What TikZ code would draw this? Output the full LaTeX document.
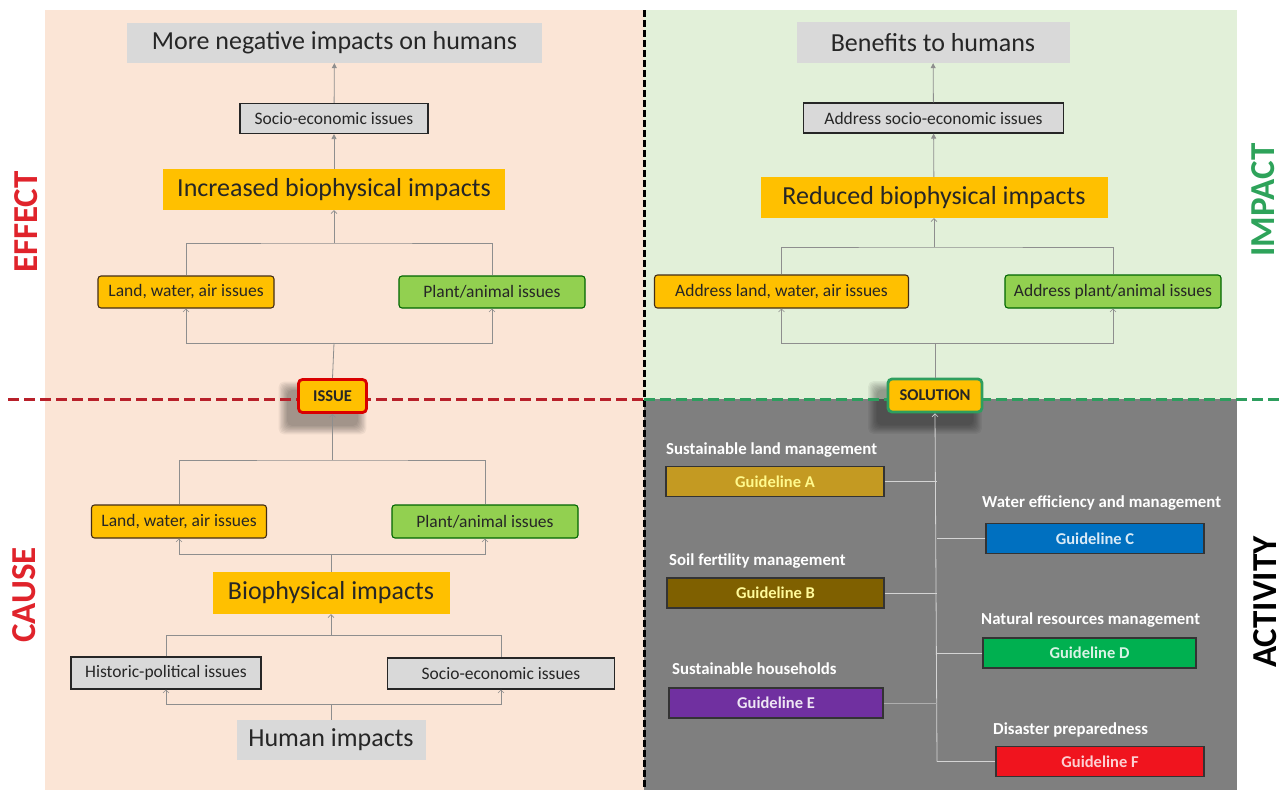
\documentclass[tikz,border=0pt]{standalone}
\usepackage{fontspec}
\setmainfont{Carlito}
\usetikzlibrary{arrows.meta,calc}

\definecolor{peach}{HTML}{FBE5D6}
\definecolor{mint}{HTML}{E2F0D9}
\definecolor{slate}{HTML}{7F7F7F}
\definecolor{amber}{HTML}{FFC000}
\definecolor{leaf}{HTML}{92D050}
\definecolor{lightgray}{HTML}{D9D9D9}
\definecolor{ink}{HTML}{262626}
\definecolor{wire}{HTML}{8E8E8E}
\definecolor{wirelight}{HTML}{D4D4D4}
\definecolor{redlabel}{HTML}{E0232B}
\definecolor{greenlabel}{HTML}{2EA35A}
\definecolor{reddash}{HTML}{B8202A}
\definecolor{greendash}{HTML}{2E9E5E}
\definecolor{goldA}{HTML}{C49A22}
\definecolor{brownB}{HTML}{7F6000}
\definecolor{blueC}{HTML}{0070C0}
\definecolor{greenD}{HTML}{00B050}
\definecolor{purpleE}{HTML}{7030A0}
\definecolor{redF}{HTML}{F0141E}

\pgfdeclarelayer{panels}
\pgfdeclarelayer{shade}
\pgfsetlayers{panels,shade,main}

\tikzset{
  plain/.style={inner sep=0pt, text=ink, align=center},
  headbox/.style={plain, fill=lightgray, font=\fontsize{26}{28}\selectfont},
  midbox/.style={plain, fill=amber, font=\fontsize{26}{28}\selectfont},
  greybox/.style={plain, fill=lightgray, draw=black!85, line width=1.1pt, font=\fontsize{17.5}{19}\selectfont},
  yellowbox/.style={plain, fill=amber, draw=black!65!brown, line width=1.1pt, rounded corners=3pt, font=\fontsize{17.5}{19}\selectfont},
  greenbox/.style={plain, fill=leaf, draw=black!60!green, line width=1.1pt, rounded corners=3pt, font=\fontsize{17.5}{19}\selectfont},
  keybox/.style={plain, fill=amber, line width=2.8pt, rounded corners=4pt, font=\bfseries\fontsize{16.5}{18}\selectfont},
  guide/.style={inner sep=0pt, draw=black!80, line width=1.1pt, minimum width=#1, minimum height=30pt,
    font=\bfseries\fontsize{16.5}{18}\selectfont},
  gtitle/.style={inner sep=0pt, anchor=west, text=white, font=\bfseries\fontsize{16.8}{18}\selectfont},
  sidelabel/.style={inner sep=0pt, rotate=90, font=\bfseries\fontsize{35}{38}\selectfont},
  conn/.style={draw=wire, line width=0.8pt},
  connw/.style={draw=wirelight, line width=0.8pt},
  opentip/.style={-{Straight Barb[length=3pt,width=6pt,line width=0.6pt]}},
  solidtip/.style={-{Triangle[length=5pt,width=5pt]}}
}

% soft shadow below-left of a node: stacked translucent rounded rectangles
\newcommand{\softshadow}[1]{%
  \begin{pgfonlayer}{shade}
    \foreach \k in {0,...,7}{
      \fill[black, opacity=.05, rounded corners=5pt]
        ($(#1.south west)+(-10-\k*1.2,12+\k*1.2)$) rectangle ($(#1.north east)+(-10+\k*1.2,12-\k*1.2)$);
    }
  \end{pgfonlayer}}

\begin{document}
\begin{tikzpicture}[x=1pt, y=-1pt]
\useasboundingbox (0,0) rectangle (1287,790);

% quadrants
\begin{pgfonlayer}{panels}
\fill[peach] (45,10) rectangle (644,790);
\fill[mint] (644,10) rectangle (1237,399);
\fill[slate] (644,399) rectangle (1237,790);
\end{pgfonlayer}

% dividing lines
\draw[black, line width=3pt, dash pattern=on 7pt off 3pt] (644,10) -- (644,790);
\draw[reddash, line width=3pt, dash pattern=on 11pt off 5pt] (8,399) -- (644,399);
\draw[greendash, line width=3pt, dash pattern=on 11pt off 5pt] (644,399) -- (1284,399);

% side labels
\node[sidelabel, text=redlabel] (effect) at (26,222) {EFFECT};
\node[sidelabel, text=redlabel] (cause) at (24,595) {CAUSE};
\node[sidelabel, text=greenlabel] (impact) at (1263,200) {IMPACT};
\node[sidelabel, text=black] (activity) at (1265,602) {ACTIVITY};

% ---------- EFFECT (upper left) ----------
\node[headbox, minimum width=415pt, minimum height=40pt] (neg) at (334.5,43) {More negative impacts on humans};
\node[greybox, minimum width=188pt, minimum height=30pt] (soc1) at (334,118.5) {Socio-economic issues};
\node[midbox, minimum width=342pt, minimum height=41pt] (inc) at (334,189.5) {Increased biophysical impacts};
\node[yellowbox, minimum width=176pt, minimum height=32pt] (lw1) at (186,292) {Land, water, air issues};
\node[greenbox, minimum width=186pt, minimum height=32pt] (pa1) at (492,292) {Plant/animal issues};
\node[keybox, draw=red!85!black, minimum width=68pt, minimum height=33pt] (issue) at (332.5,396) {ISSUE};
\softshadow{issue}

\coordinate (j1) at (334,243);
\coordinate (j2) at (334,343);
\draw[conn, solidtip] (soc1) -- (neg);
\draw[conn, solidtip] (inc) -- (soc1);
\draw[conn] (lw1.north) |- (j1) -| (pa1.north);
\draw[conn, opentip] (j1) -- (inc.south);
\draw[conn, opentip] (j2) -| (lw1.south);
\draw[conn, opentip] (j2) -| (pa1.south);
\draw[conn] (issue.north) -- (j2);

% ---------- CAUSE (lower left) ----------
\node[yellowbox, minimum width=175pt, minimum height=33pt] (lw2) at (179,521.5) {Land, water, air issues};
\node[greenbox, minimum width=186pt, minimum height=33pt] (pa2) at (485,521.5) {Plant/animal issues};
\node[midbox, minimum width=237pt, minimum height=42pt] (bio) at (331,593) {Biophysical impacts};
\node[greybox, minimum width=190pt, minimum height=32pt] (hp) at (166,673) {Historic-political issues};
\node[greybox, minimum width=227pt, minimum height=31pt] (se2) at (501,673.5) {Socio-economic issues};
\node[headbox, minimum width=189pt, minimum height=40pt] (hum) at (331,740) {Human impacts};

\coordinate (j3) at (332.5,460);
\coordinate (j4) at (331,554);
\coordinate (j5) at (331,635);
\coordinate (j6) at (331,704);
\draw[conn] (lw2.north) |- (j3) -| (pa2.north);
\draw[conn, opentip] (j3) -- (issue.south);
\draw[conn, opentip] (j4) -| (lw2.south);
\draw[conn, opentip] (j4) -| (pa2.south);
\draw[conn] (bio.north) -- (j4);
\draw[conn] (hp.north) |- (j5) -| (se2.north);
\draw[conn, opentip] (j5) -- (bio.south);
\draw[conn, opentip] (j6) -| (hp.south);
\draw[conn, opentip] (j6) -| (se2.south);
\draw[conn] (hum.north) -- (j6);

% ---------- IMPACT (upper right) ----------
\node[headbox, minimum width=273pt, minimum height=41pt] (ben) at (933,42.5) {Benefits to humans};
\node[greybox, minimum width=260pt, minimum height=30pt] (ase) at (933.5,118) {Address socio-economic issues};
\node[midbox, minimum width=347pt, minimum height=41pt] (red) at (934,197.5) {Reduced biophysical impacts};
\node[yellowbox, minimum width=254pt, minimum height=33pt] (alw) at (781.5,291.5) {Address land, water, air issues};
\node[greenbox, minimum width=216pt, minimum height=33pt] (apa) at (1113,291.5) {Address plant/animal issues};
\node[keybox, draw=greendash, minimum width=94pt, minimum height=33pt] (sol) at (935,395.5) {SOLUTION};
\softshadow{sol}

\coordinate (j7) at (934,247);
\coordinate (j8) at (935,343);
\draw[conn, solidtip] (ase) -- (ben);
\draw[conn, solidtip] (red) -- (ase);
\draw[conn] (alw.north) |- (j7) -| (apa.north);
\draw[conn, opentip] (j7) -- (red.south);
\draw[conn, opentip] (j8) -| (alw.south);
\draw[conn, opentip] (j8) -| (apa.south);
\draw[conn] (sol.north) -- (j8);

% ---------- ACTIVITY (lower right) ----------
\node[gtitle] (tA) at (666,450) {Sustainable land management};
\node[guide=218pt, fill=goldA, text=yellow!45!white] (gA) at (775,481.5) {Guideline A};
\node[gtitle] (tB) at (669,561) {Soil fertility management};
\node[guide=217pt, fill=brownB, text=yellow!40!white] (gB) at (775.5,593) {Guideline B};
\node[gtitle] (tE) at (672,669) {Sustainable households};
\node[guide=214pt, fill=purpleE, text=white!88!purpleE] (gE) at (776,703) {Guideline E};
\node[gtitle] (tC) at (982,503.5) {Water efficiency and management};
\node[guide=218pt, fill=blueC, text=white!85!blueC] (gC) at (1095,538.5) {Guideline C};
\node[gtitle] (tD) at (981,620.5) {Natural resources management};
\node[guide=213pt, fill=greenD, text=white!85!greenD] (gD) at (1089.5,653) {Guideline D};
\node[gtitle] (tF) at (993,729.5) {Disaster preparedness};
\node[guide=208pt, fill=redF, text=white!80!redF] (gF) at (1100,761.5) {Guideline F};

\coordinate (tb) at (937,761.5);
\draw[connw, opentip] (tb) -- (sol.south);
\draw[connw] (tb) -- (gF.west);
\draw[connw] (gA.east) -- (gA.east -| tb);
\draw[connw] (gB.east) -- (gB.east -| tb);
\draw[connw, draw=wirelight!55!slate] (gE.east) -- (gE.east -| tb);
\draw[connw] (gC.west) -- (gC.west -| tb);
\draw[connw] (gD.west) -- (gD.west -| tb);
\end{tikzpicture}
\end{document}
